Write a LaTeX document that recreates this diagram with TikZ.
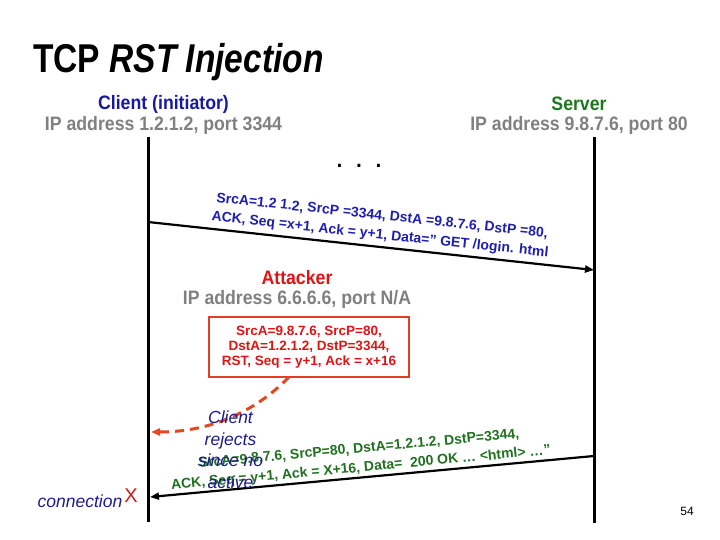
\documentclass[tikz,border=0pt]{standalone}
\usepackage{fontspec}
\setmainfont{Liberation Sans}
\usetikzlibrary{arrows.meta}
\definecolor{cblue}{RGB}{24,24,160}
\definecolor{ipgray}{RGB}{128,128,128}
\definecolor{sgreen}{RGB}{30,118,30}
\definecolor{ared}{RGB}{222,20,20}
\definecolor{boxred}{RGB}{226,62,32}
\definecolor{dashred}{RGB}{228,72,32}
\definecolor{iblue}{RGB}{28,28,140}
\definecolor{ablue}{RGB}{30,30,175}
\definecolor{agreen}{RGB}{32,112,32}
\definecolor{xred}{RGB}{200,30,30}
\newcommand{\tallish}[1]{\scalebox{1}[1.1]{#1}}
\tikzset{
  head/.style={font=\bfseries\fontsize{17.7}{21}\selectfont},
  msg/.style={font=\bfseries\fontsize{14}{19}\selectfont, align=center},
  life/.style={line width=3pt},
  arr/.style={line width=2.2pt, -{Triangle[length=9pt,width=7pt]}},
  note/.style={font=\itshape\fontsize{17.5}{21.5}\selectfont, text=iblue, align=center}
}
\begin{document}
\begin{tikzpicture}[x=1pt,y=-1pt]
\useasboundingbox (0,0) rectangle (720,540);
% title
\node[anchor=base west, font=\bfseries\fontsize{33.5}{40}\selectfont, inner sep=0pt] (title) at (33,73) {\scalebox{1}[1.2]{TCP \textit{RST Injection}}};
% parties
\node[head, text=cblue] (cname) at (163.5,104) {\tallish{Client (initiator)}};
\node[head, text=ipgray] (cip) at (163.5,125) {\tallish{IP address 1.2.1.2, port 3344}};
\node[head, text=sgreen] (sname) at (579,104) {\tallish{Server}};
\node[head, text=ipgray] (sip) at (579,125) {\tallish{IP address 9.8.7.6, port 80}};
\node[head, text=ared] (aname) at (297,278) {\tallish{Attacker}};
\node[head, text=ipgray] (aip) at (297,299) {\tallish{IP address 6.6.6.6, port N/A}};
% lifelines
\coordinate (c0) at (148,137);
\coordinate (c1) at (148,522);
\coordinate (s0) at (594,137);
\coordinate (s1) at (594,523);
\draw[life] (c0) -- (c1);
\draw[life] (s0) -- (s1);
% dots
\node[font=\fontsize{30}{30}\selectfont] (dots) at (359,166) {. . .};
% message 1
\coordinate (a1s) at (148,222);
\coordinate (a1e) at (594,270);
\draw[arr] (a1s) -- (a1e);
\node[msg, text=ablue, rotate=-6.14] (m1) at (381,226) {SrcA=1.2 1.2, SrcP =3344, DstA =9.8.7.6, DstP =80,\\ACK, Seq =x+1, Ack = y+1, Data=" GET /login. html};
% injected RST
\node[draw=boxred, line width=2.5pt, minimum width=200pt, minimum height=60pt, align=center, text=ared, font=\bfseries\fontsize{13.5}{15}\selectfont] (rst) at (309,347) {SrcA=9.8.7.6, SrcP=80,\\DstA=1.2.1.2, DstP=3344,\\RST, Seq = y+1, Ack = x+16};
\coordinate (d0) at (289,377);
\coordinate (d1) at (151,432);
\draw[dashred, line width=3pt, dash pattern=on 9pt off 6pt, -{Triangle[length=9pt,width=7pt]}] (d0) .. controls (255,412) and (210,432) .. (d1);
% message 2
\coordinate (a2s) at (594,456);
\coordinate (a2e) at (150,497);
\draw[arr] (a2s) -- (a2e);
\node[msg, text=agreen, rotate=5.3] (m2) at (360,459) {SrcA=9.8.7.6, SrcP=80, DstA=1.2.1.2, DstP=3344,\\ACK, Seq = y+1, Ack = X+16, Data=\ \ 200 OK … <html> …"};
% note
\node[note] (rej) at (230.5,449.5) {Client\\rejects\\since no\\active};
\node[note] (conn) at (80,501) {connection};
\node[font=\fontsize{20}{20}\selectfont, text=xred] (x) at (131,496) {X};
% page number
\node[font=\fontsize{12}{14}\selectfont] (pg) at (687,511) {54};
\end{tikzpicture}
\end{document}
